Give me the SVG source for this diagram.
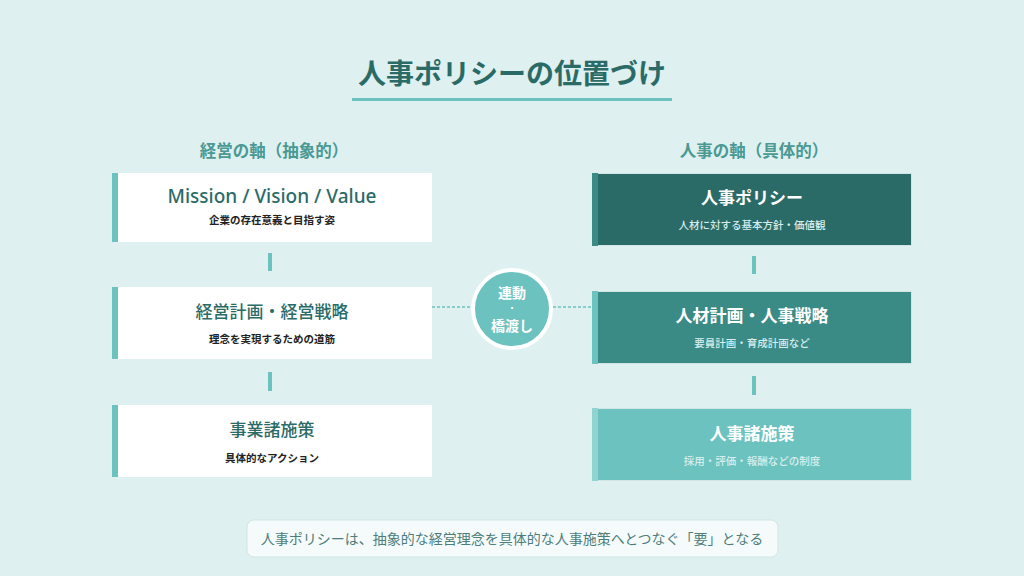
<svg xmlns="http://www.w3.org/2000/svg" width="1024" height="576" viewBox="0 0 1024 576">
<style>
text{font-family:"Noto Sans CJK JP","Noto Sans",sans-serif;text-anchor:middle;dominant-baseline:central}
.title{font-size:28px;font-weight:700;fill:#2b6b67}
.head{font-size:16.5px;font-weight:700;fill:#4a9993}
.lt{font-size:17px;font-weight:500;fill:#2b6b67}
.en{font-family:"Noto Sans","Noto Sans CJK JP",sans-serif;font-size:19px;font-weight:500;fill:#2b6b67}
.ls{font-size:10.5px;font-weight:700;fill:#222}
.rt{font-size:17px;font-weight:700;fill:#fff}
.rs{font-size:10.5px;font-weight:500;fill:#d6eeec}
.conn{fill:#6cc2bf}
.dash{stroke:#6cc2bf;stroke-width:1.5;stroke-dasharray:3 2;fill:none}
.box{stroke:#cfe6e5;stroke-width:1}
.ct{font-size:14px;font-weight:700;fill:#fff}
</style>
<rect width="1024" height="576" fill="#dff0f0"/>
<text class="title" x="512" y="72">人事ポリシーの位置づけ</text>
<rect x="352" y="98" width="320" height="3" fill="#6cc2bf"/>
<text class="head" x="274" y="150">経営の軸（抽象的）</text>
<text class="head" x="754" y="150">人事の軸（具体的）</text>
<g id="connectors">
<rect class="conn" x="268" y="253" width="4" height="18"/>
<rect class="conn" x="268" y="372" width="4" height="19"/>
<rect class="conn" x="752" y="256" width="4" height="18"/>
<rect class="conn" x="752" y="376" width="4" height="19"/>
<line class="dash" x1="432" y1="307" x2="471" y2="307"/>
<line class="dash" x1="553" y1="307" x2="592" y2="307"/>
</g>
<g id="l1">
<rect x="112" y="173" width="320" height="69" fill="#fff"/>
<rect x="112" y="173" width="6" height="69" fill="#6cc2bf"/>
<text class="en" x="272" y="196">Mission / Vision / Value</text>
<text class="ls" x="272" y="219">企業の存在意義と目指す姿</text>
</g>
<g id="l2">
<rect x="112" y="287" width="320" height="72" fill="#fff"/>
<rect x="112" y="287" width="6" height="72" fill="#6cc2bf"/>
<text class="lt" x="272" y="310">経営計画・経営戦略</text>
<text class="ls" x="272" y="338">理念を実現するための道筋</text>
</g>
<g id="l3">
<rect x="112" y="405" width="320" height="72" fill="#fff"/>
<rect x="112" y="405" width="6" height="72" fill="#6cc2bf"/>
<text class="lt" x="272" y="428">事業諸施策</text>
<text class="ls" x="272" y="457">具体的なアクション</text>
</g>
<g id="r1">
<rect class="box" x="592.5" y="173.5" width="319" height="72" fill="#2b6b67"/>
<rect x="592" y="173" width="6" height="73" fill="#3a8a85"/>
<text class="rt" x="752" y="196">人事ポリシー</text>
<text class="rs" x="752" y="224">人材に対する基本方針・価値観</text>
</g>
<g id="r2">
<rect class="box" x="592.5" y="291.5" width="319" height="72" fill="#3a8a85"/>
<rect x="592" y="291" width="6" height="73" fill="#6cc2bf"/>
<text class="rt" x="752" y="314">人材計画・人事戦略</text>
<text class="rs" x="752" y="342">要員計画・育成計画など</text>
</g>
<g id="r3">
<rect class="box" x="592.5" y="408.5" width="319" height="72" fill="#6cc2bf"/>
<rect x="592" y="408" width="6" height="73" fill="#8fd4d1"/>
<text class="rt" x="752" y="432">人事諸施策</text>
<text class="rs" x="752" y="460">採用・評価・報酬などの制度</text>
</g>
<g id="bridge">
<circle cx="512" cy="309" r="39" fill="#6cc2bf" stroke="#fff" stroke-width="4"/>
<text class="ct" x="512" y="292">連動</text>
<text x="512" y="307.5" style="font-size:8px;font-weight:700;fill:#fff">・</text>
<text class="ct" x="512" y="325">橋渡し</text>
</g>
<g id="note">
<rect x="247" y="520" width="531" height="37" rx="7" fill="#f5fbfb" stroke="#cfe6e5"/>
<text x="512" y="538" style="font-size:14px;font-weight:400;fill:#4d7d7a">人事ポリシーは、抽象的な経営理念を具体的な人事施策へとつなぐ「要」となる</text>
</g>
</svg>
